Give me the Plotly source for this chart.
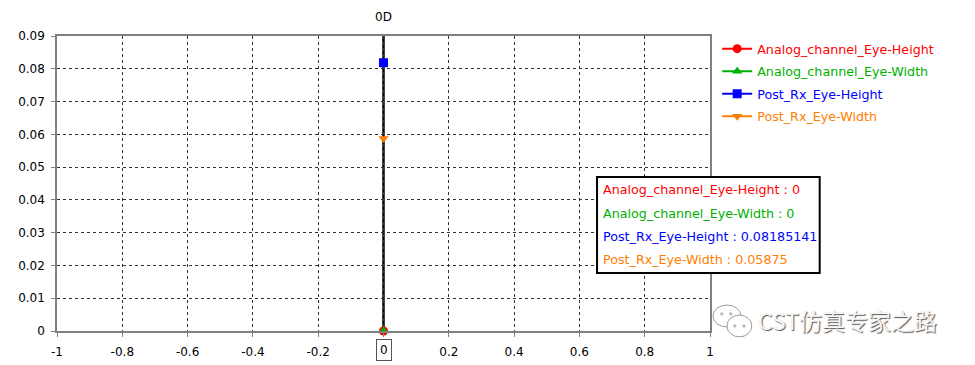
import plotly.graph_objects as go

# ---- data ----
cursor_x = 0
cursor_label = "0D"
series_names = ["Analog_channel_Eye-Height", "Analog_channel_Eye-Width",
                "Post_Rx_Eye-Height", "Post_Rx_Eye-Width"]
series_values = [0, 0, 0.08185141, 0.05875]
series_value_text = ["0", "0", "0.08185141", "0.05875"]
series_colors = ["#ff0000", "#00b000", "#0000ff", "#ff8000"]
series_symbols = ["circle", "triangle-up", "square", "triangle-down"]
x_ticks = [-1, -0.8, -0.6, -0.4, -0.2, 0, 0.2, 0.4, 0.6, 0.8, 1]
x_tick_text = ["-1", "-0.8", "-0.6", "-0.4", "-0.2", "", "0.2", "0.4", "0.6", "0.8", "1"]
y_ticks = [0, 0.01, 0.02, 0.03, 0.04, 0.05, 0.06, 0.07, 0.08, 0.09]
y_tick_text = ["0", "0.01", "0.02", "0.03", "0.04", "0.05", "0.06", "0.07", "0.08", "0.09"]
watermark = "CST仿真专家之路"

FONT = "DejaVu Sans"
TXT = 12.7

fig = go.Figure()
for name, val, col, sym in zip(series_names, series_values, series_colors, series_symbols):
    fig.add_trace(go.Scatter(
        x=[cursor_x], y=[val], mode="lines+markers",
        name=f"<span style='color:{col}'>{name}</span>",
        legendgroup=name,
        line=dict(color=col, width=2),
        marker=dict(color=col, symbol=sym, size=9),
        cliponaxis=False,
    ))

# cursor line
fig.add_shape(type="line", xref="x", yref="paper", x0=cursor_x, x1=cursor_x, y0=0, y1=1,
              line=dict(color="black", width=2.5), layer="below")

# cursor label top
fig.add_annotation(x=cursor_x, xref="x", y=1, yref="paper", yshift=19, yanchor="middle",
                   text=cursor_label, showarrow=False,
                   font=dict(family=FONT, size=12, color="black"))
# boxed zero tick
fig.add_annotation(x=cursor_x, xref="x", y=0, yref="paper", yshift=-19, yanchor="middle",
                   text="0", showarrow=False, font=dict(family=FONT, size=12, color="black"),
                   bordercolor="#555555", borderwidth=1, borderpad=3, bgcolor="white")

# tooltip box
fig.add_shape(type="rect", xref="paper", yref="paper", x0=0.827, x1=1.168, y0=0.197, y1=0.522,
              line=dict(color="black", width=2), fillcolor="white", layer="above")
line_y = [0.478, 0.400, 0.322, 0.244]
for n, t, c, yy in zip(series_names, series_value_text, series_colors, line_y):
    fig.add_annotation(xref="paper", yref="paper", x=0.833, y=yy, xanchor="left",
                       yanchor="middle", text=f"{n} : {t}", showarrow=False,
                       font=dict(family=FONT, size=TXT, color=c))

# watermark icon (two chat bubbles)
fig.add_shape(type="circle", xref="paper", yref="paper", x0=1.0046, x1=1.0475, y0=0.0136, y1=0.088,
              line=dict(color="#9a9a9a", width=1), fillcolor="white", layer="above")
fig.add_shape(type="circle", xref="paper", yref="paper", x0=1.026, x1=1.064, y0=-0.020, y1=0.054,
              line=dict(color="#9a9a9a", width=1), fillcolor="white", layer="above")
for ex, ey in [(1.018, 0.058), (1.032, 0.058), (1.038, 0.017), (1.052, 0.017)]:
    fig.add_shape(type="circle", xref="paper", yref="paper", x0=ex - 0.0017, x1=ex + 0.0017,
                  y0=ey - 0.0037, y1=ey + 0.0037, line=dict(color="#9a9a9a", width=1),
                  fillcolor="white", layer="above")

# watermark text
fig.add_annotation(xref="paper", yref="paper", x=1.211, y=0.037, xanchor="center",
                   yanchor="middle", text=watermark, showarrow=False,
                   font=dict(family="Noto Sans CJK SC", size=23, color="#f6f6f6",
                             shadow="1px 1px 1px #555"))

fig.update_layout(
    width=959, height=357,
    margin=dict(l=49, r=257, t=28, b=34),
    paper_bgcolor="white", plot_bgcolor="white",
    font=dict(family=FONT, size=12, color="black"),
    showlegend=True,
    legend=dict(x=1.011, y=1.007, xanchor="left", yanchor="top",
                font=dict(family=FONT, size=TXT),
                tracegroupgap=3, traceorder="grouped",
                bgcolor="rgba(0,0,0,0)"),
    hovermode=False,
)
fig.update_xaxes(range=[-1, 1], tickvals=x_ticks, ticktext=x_tick_text, automargin=False,
                 showline=True, linecolor="#808080", linewidth=1.5, mirror=True,
                 ticks="outside", ticklen=4, tickcolor="#808080", ticklabelstandoff=5,
                 showgrid=True, gridcolor="#333333", gridwidth=1, griddash="3px,3px",
                 zeroline=False, tickfont=dict(family=FONT, size=12))
fig.update_yaxes(range=[0, 0.09], tickvals=y_ticks, ticktext=y_tick_text, automargin=False,
                 showline=True, linecolor="#808080", linewidth=1.5, mirror=True,
                 ticks="outside", ticklen=4, tickcolor="#808080", ticklabelstandoff=4,
                 showgrid=True, gridcolor="#333333", gridwidth=1, griddash="3px,3px",
                 zeroline=False, tickfont=dict(family=FONT, size=12))

fig.write_html("out.html")
